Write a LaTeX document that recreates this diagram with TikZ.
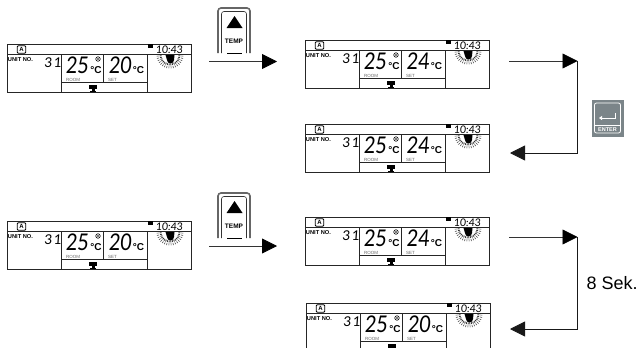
\documentclass[tikz,border=0pt]{standalone}
\usepackage{fontspec}
\setmainfont{Liberation Sans}
\newfontfamily\lcdfont{Lato}
\usetikzlibrary{arrows.meta,positioning}
\definecolor{keygray}{HTML}{7B8589}
\tikzset{
    lcdline/.style={line width=0.9pt,black!85},
    lcdnum/.style={inner sep=0pt,transform shape,xslant=0.08,xscale=0.85,font=\lcdfont\fontsize{23}{23}\selectfont},
    lcdsmall/.style={inner sep=0pt,transform shape,xslant=0.08,font=\lcdfont\fontsize{13.5}{14}\selectfont},
    lcdunit/.style={inner sep=0pt,font=\bfseries\fontsize{10}{10}\selectfont},
    lcdtag/.style={inner sep=0pt,text=black!60,font=\fontsize{4.5}{5}\selectfont},
    flow/.style={line width=0.8pt,black!80,-{Triangle[length=15pt,width=15pt,black]}},
    flowplain/.style={line width=0.8pt,black!90},
    tempkey/.style={inner sep=0pt,font=\bfseries\fontsize{6.5}{7}\selectfont},
}
% one display: name, left, top, set value
\newcommand{\lcdpanel}[4]{
\begin{scope}[shift={(#2,#3)}]
    \draw[lcdline] (0,0) rectangle (184,48);
    \draw[lcdline] (0,10) -- (184,10);
    \draw[lcdline] (54,10) -- (54,48);
    \draw[lcdline] (140,10) -- (140,48);
    \draw[lcdline] (96,10) -- (96,38);
    \draw[lcdline] (54,38) -- (140,38);
    \node[draw,rounded corners=1pt,line width=0.8pt,minimum width=8.5pt,minimum height=7.5pt,inner sep=0pt,font=\bfseries\fontsize{6}{6}\selectfont] (#1_auto) at (14.5,5.5) {A};
    \node[inner sep=0pt,font=\bfseries\fontsize{5.7}{6}\selectfont] (#1_unit) at (13.5,16) {UNIT NO.};
    \node[lcdsmall] (#1_three) at (41.5,18.5) {3};
    \node[lcdsmall] (#1_one) at (51,18.5) {1};
    \node[lcdnum] (#1_room) at (70.5,21) {25};
    \node[lcdunit] (#1_roomc) at (89,26.5) {°C};
    \node[draw,circle,line width=0.6pt,inner sep=1.6pt] (#1_fan) at (91,15) {};
    \fill[black!70] (#1_fan) circle (1.1);
    \node[lcdnum] (#1_set) at (113.5,21) {#4};
    \node[lcdunit] (#1_setc) at (131.5,26.5) {°C};
    \node[lcdtag] (#1_roomtag) at (66,36) {ROOM};
    \node[lcdtag] (#1_settag) at (105.5,36) {SET};
    \fill (82,41) rectangle (90,45);
    \fill (85,45) rectangle (87.5,47);
    \fill (83,46.5) rectangle (89,47.6);
    \fill (141,0) rectangle (146,4);
    \node[inner sep=0pt,transform shape,xslant=0.06,font=\lcdfont\fontsize{10.5}{11}\selectfont] (#1_clock) at (162.5,5.5) {10:43};
    \fill (158.5,11) -- (167.5,11) -- (167,16) arc[start angle=0,end angle=180,radius=3.5] -- cycle;
    \begin{scope}[shift={(163,11)}]
        \foreach \a in {5,15,...,175} {
            \draw[line width=0.8pt,black!80] (\a:8.5) -- (\a:10.5);
            \draw[line width=0.6pt,black!70] (\a:11.5) -- (\a:13.5);
        }
    \end{scope}
\end{scope}
}
% the key with the arrow on it, cut off below
\newcommand{\tempbutton}[3]{
\begin{scope}[shift={(#2,#3)}]
    \draw[line width=1.6pt,black!60,rounded corners=3pt] (0,45) -- (0,0) -- (32,0) -- (32,45);
    \draw[line width=0.6pt,black!80,rounded corners=2.5pt] (3.5,45) -- (3.5,3.5) -- (28.5,3.5) -- (28.5,45);
    \fill (8.5,20) -- (24.5,20) -- (16.5,8) -- cycle;
    \node[tempkey] (#1_label) at (16,33) {TEMP};
    \draw[line width=1pt] (9,45) -- (24,45);
\end{scope}
}
\begin{document}
\begin{tikzpicture}[x=1pt,y=-1pt]
    \useasboundingbox (0,0) rectangle (643,348);
    \clip (0,0) rectangle (643,348);
    % displays
    \lcdpanel{start_a}{7}{44}{20}
    \lcdpanel{up_a}{305}{40}{24}
    \lcdpanel{done_a}{305}{124}{24}
    \lcdpanel{start_b}{7}{221}{20}
    \lcdpanel{up_b}{305}{217}{24}
    \lcdpanel{done_b}{306}{303}{20}
    % keys
    \tempbutton{temp_a}{218}{8}
    \tempbutton{temp_b}{218}{193}
    \node[draw=keygray,fill=keygray,minimum width=31pt,minimum height=36pt,inner sep=0pt] (enter_key) at (607.5,118) {};
    \draw[white,line width=0.8pt,rounded corners=2pt] (594.5,103) rectangle (620.5,133);
    \draw[white,line width=0.5pt] (594.5,125) -- (620.5,125);
    \draw[white,line width=1pt,{Triangle[length=3pt,width=4pt]}-] (599,118) -- (615,118) -- (615,112.5);
    \node[inner sep=0pt,text=white,font=\bfseries\fontsize{5.5}{5.5}\selectfont] (enter_label) at (607.5,129.2) {ENTER};
    % arrows
    \coordinate (in_a) at (209,61.5);
    \coordinate (out_a) at (277,61.5);
    \coordinate (in_b) at (209,246);
    \coordinate (out_b) at (277,246);
    \coordinate (from_a) at (509,61);
    \coordinate (turn_a) at (577.5,61);
    \coordinate (back_a) at (510,153);
    \coordinate (from_b) at (509,237);
    \coordinate (turn_b) at (577.5,237);
    \coordinate (back_b) at (510,329);
    \draw[flow] (in_a) -- (out_a);
    \draw[flow] (in_b) -- (out_b);
    \draw[flow] (from_a) -- (turn_a);
    \draw[flow] (from_b) -- (turn_b);
    \draw[flowplain,-{Triangle[length=15pt,width=15pt]}] (turn_a) |- (back_a);
    \draw[flowplain,-{Triangle[length=15pt,width=15pt]}] (turn_b) |- (back_b);
    \node[inner sep=0pt,anchor=west,font=\fontsize{18}{18}\selectfont] (wait_label) at (586.5,283) {8 Sek.};
\end{tikzpicture}
\end{document}
